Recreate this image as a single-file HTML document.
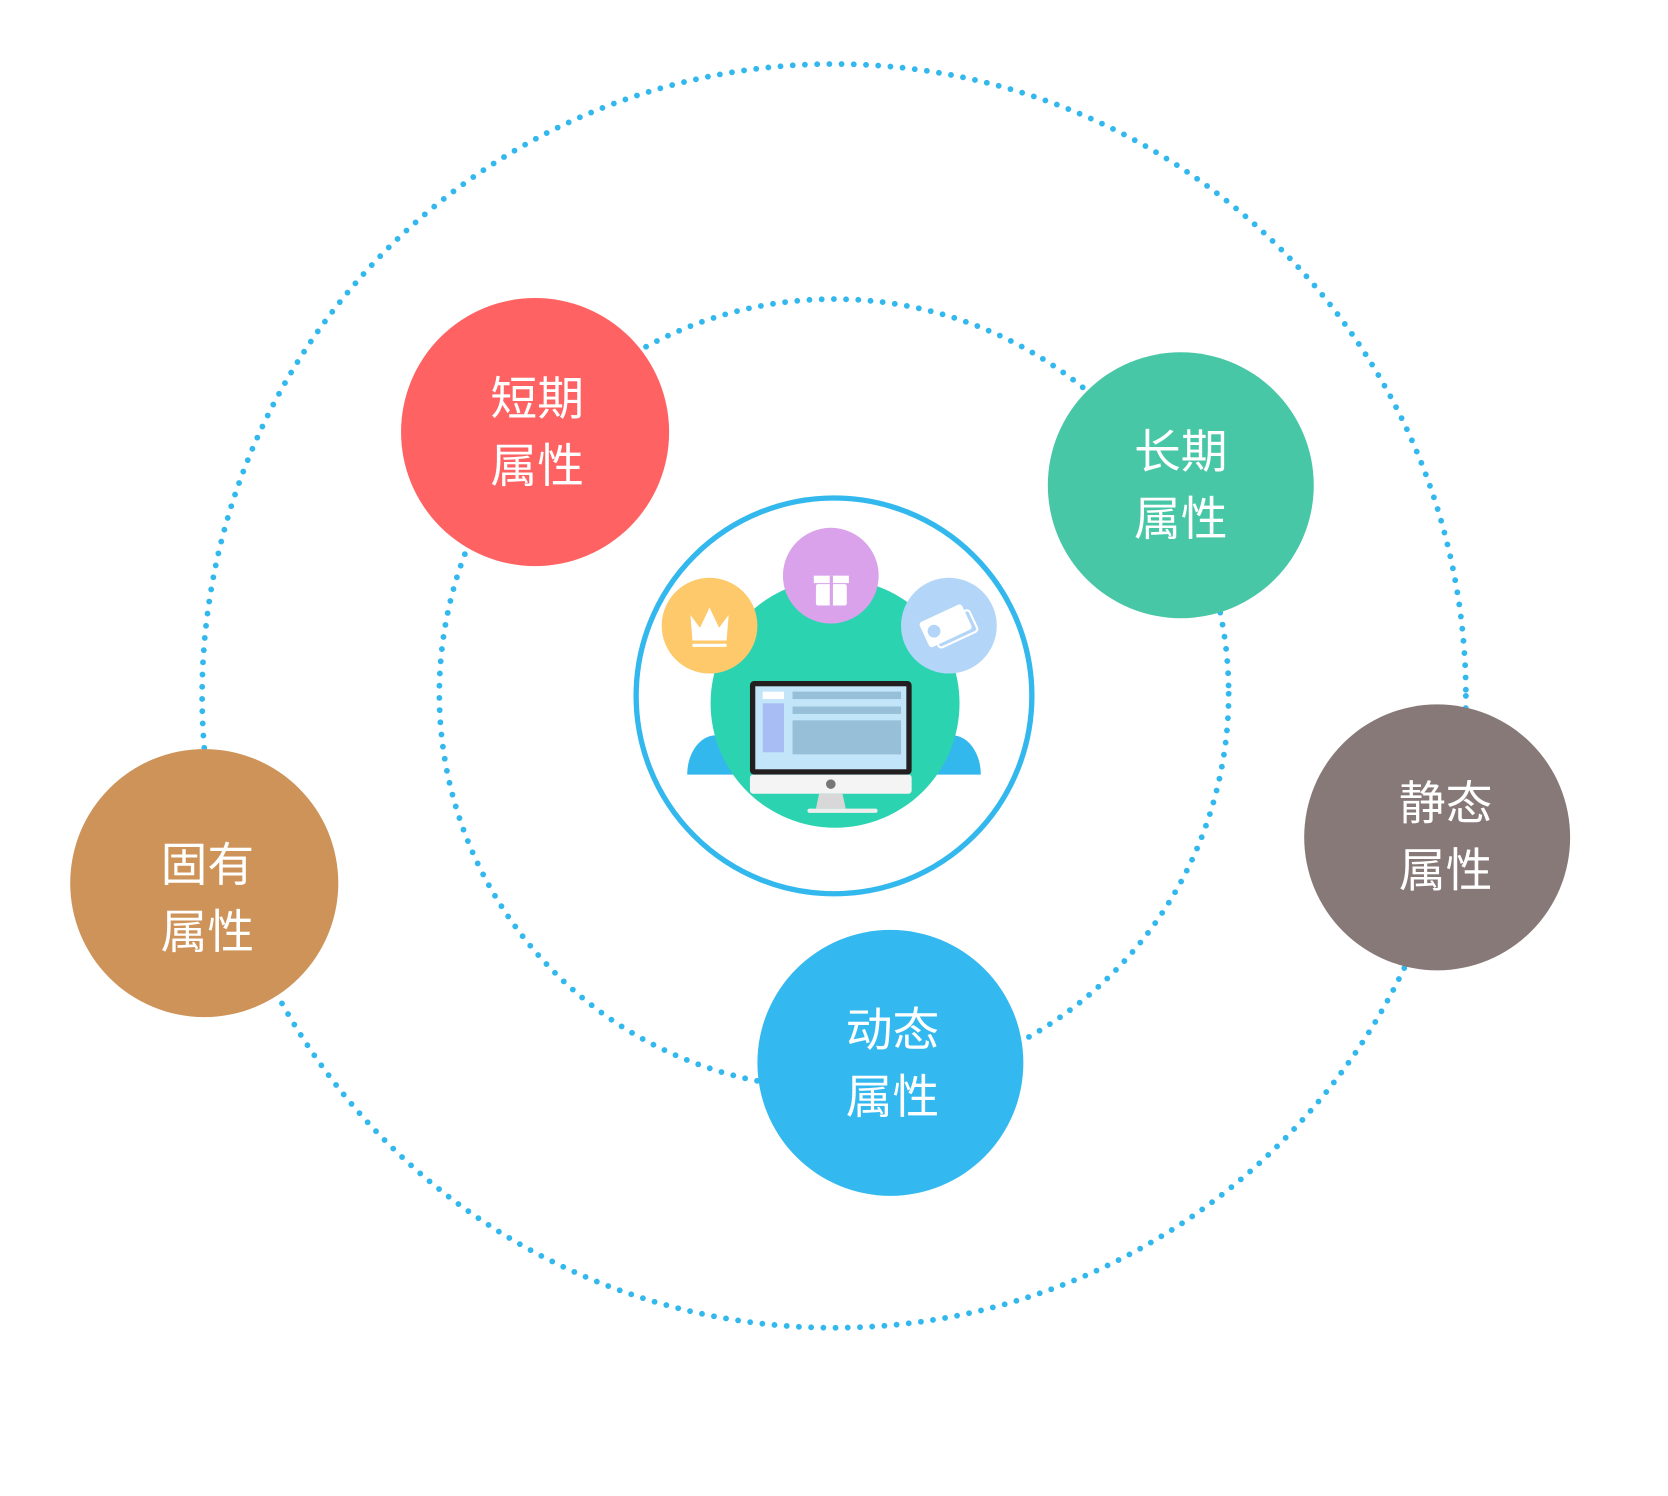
<!DOCTYPE html>
<html><head><meta charset="utf-8"><style>html,body{margin:0;padding:0;background:#fff}svg{display:block}</style></head>
<body>
<svg width="1668" height="1496" viewBox="0 0 1568 1406" xmlns="http://www.w3.org/2000/svg">
<rect width="1568" height="1406" fill="#fff"/>
<circle cx="784" cy="654" r="594" fill="none" stroke="#33b8ee" stroke-width="5.5" stroke-dasharray="0 11.5" stroke-linecap="round"/>
<circle cx="784" cy="652" r="371" fill="none" stroke="#33b8ee" stroke-width="5.5" stroke-dasharray="0 11.5" stroke-linecap="round"/>
<circle cx="784" cy="654" r="186" fill="#fff" stroke="#33b8ee" stroke-width="5"/>
<path d="M646 728 A27 37 0 0 1 700 728 Z" fill="#33b8ee"/>
<path d="M868 728 A27 37 0 0 1 922 728 Z" fill="#33b8ee"/>
<circle cx="785" cy="661" r="117" fill="#2cd3b1"/>
<rect x="705" y="640" width="152" height="88" rx="4" fill="#231f20"/>
<rect x="710" y="645" width="142" height="78" fill="#c2e5f9"/>
<rect x="717" y="650" width="20" height="7" fill="#fff"/>
<rect x="717" y="661" width="20" height="46" fill="#a8bdf4"/>
<rect x="745" y="650" width="102" height="7" fill="#97c0d8"/>
<rect x="745" y="664" width="102" height="7" fill="#97c0d8"/>
<rect x="745" y="677" width="102" height="32" fill="#97c0d8"/>
<rect x="705" y="728" width="152" height="18" rx="3" fill="#f4f4f4"/>
<circle cx="781" cy="737" r="4.5" fill="#777"/>
<path d="M770 746 L792 746 L795 760 L767 760 Z" fill="#d8d8d8"/>
<rect x="759" y="760" width="66" height="4" rx="2" fill="#eee"/>
<circle cx="667" cy="588" r="45" fill="#fdc96a"/>
<path d="M649 578 L658 590 L667 571 L676 590 L685 578 L683 602 L651 602 Z" fill="#fff"/>
<rect x="651" y="605" width="32" height="3" fill="#fff"/>
<circle cx="781" cy="541" r="45" fill="#d9a2ea"/>
<rect x="765" y="541" width="33" height="7" fill="#fff"/>
<rect x="767" y="549" width="29" height="20" rx="2" fill="#fff"/>
<rect x="780" y="541" width="3" height="28" fill="#d9a2ea"/>
<circle cx="892" cy="588" r="45" fill="#b3d5f8"/>
<g transform="rotate(-25 892 590)"><rect x="868" y="574" width="44" height="26" rx="3" fill="#fff"/><rect x="876" y="582" width="40" height="22" rx="3" fill="none" stroke="#fff" stroke-width="2"/><circle cx="878" cy="587" r="6" fill="#b3d5f8"/></g>
<g font-family="'Liberation Sans','Noto Sans CJK SC',sans-serif" font-size="44" fill="#fff" text-anchor="middle">
<circle cx="503" cy="406" r="126" fill="#fe6262"/>
<text x="505" y="390">短期</text><text x="505" y="453">属性</text>
<circle cx="1110" cy="456" r="125" fill="#48c7a7"/>
<text x="1110" y="440">长期</text><text x="1110" y="503">属性</text>
<circle cx="192" cy="830" r="126" fill="#cd9358"/>
<text x="195" y="828">固有</text><text x="195" y="891">属性</text>
<circle cx="837" cy="999" r="125" fill="#33b9ef"/>
<text x="839" y="983">动态</text><text x="839" y="1046">属性</text>
<circle cx="1351" cy="787" r="125" fill="#877978"/>
<text x="1359" y="770">静态</text><text x="1359" y="833">属性</text>
</g>
</svg>
</body></html>
